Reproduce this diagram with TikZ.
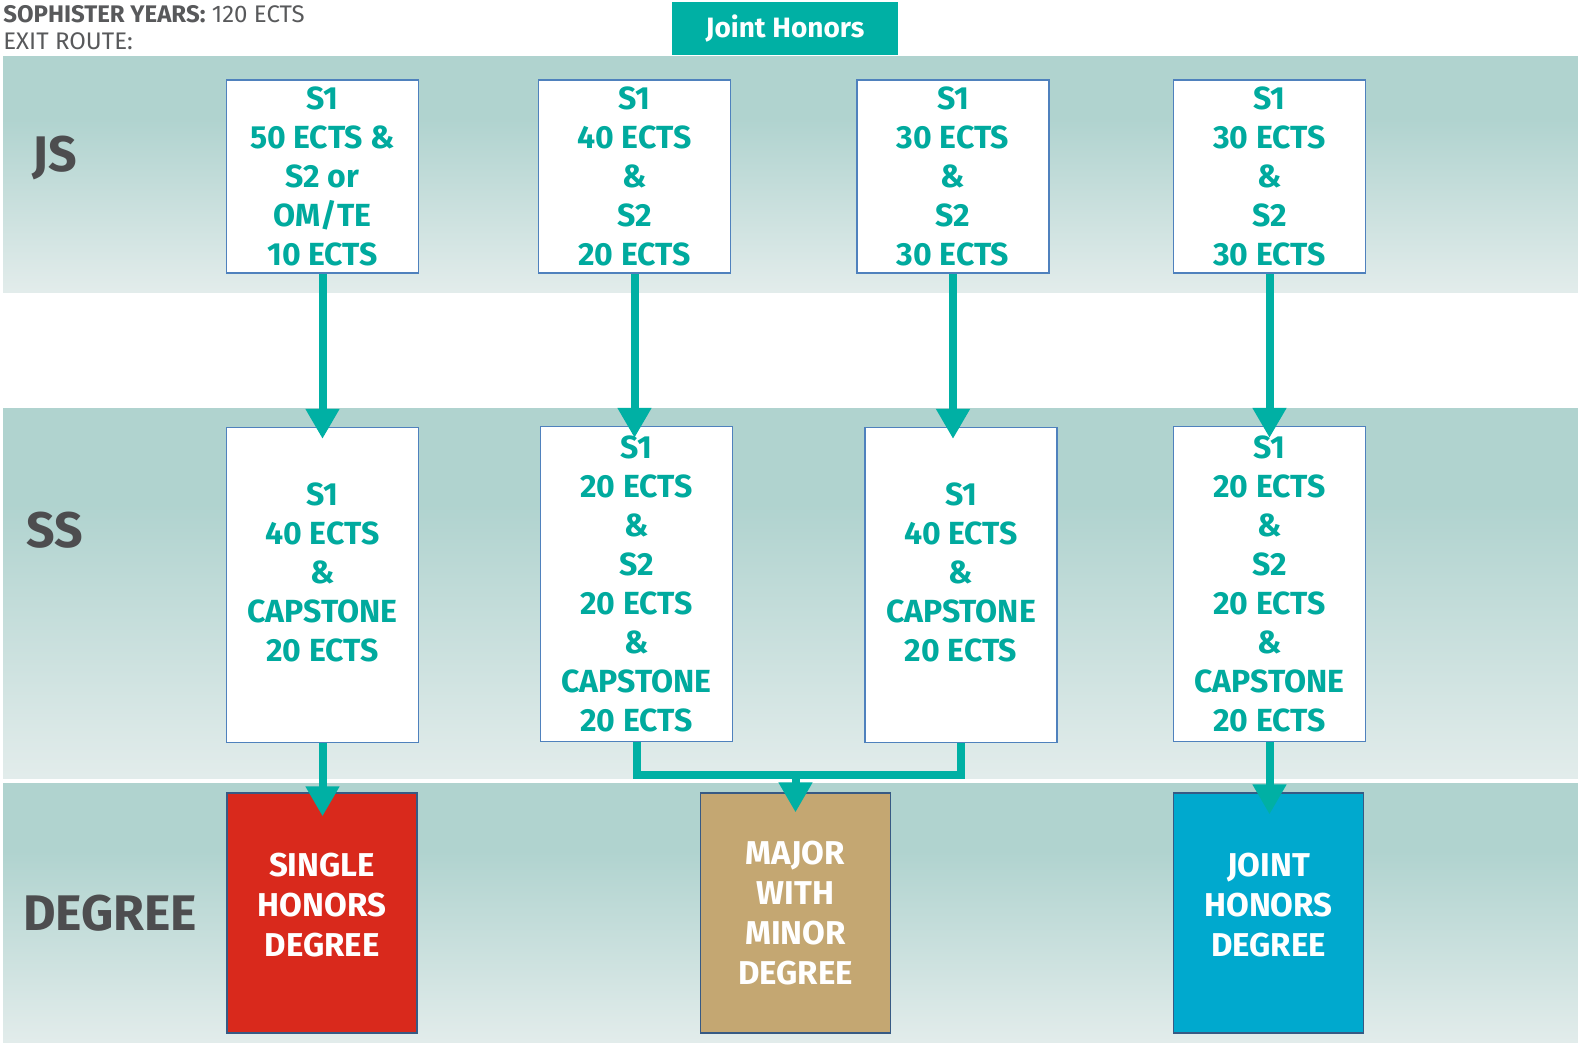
\documentclass[tikz,border=0pt]{standalone}
\usepackage{fontspec}
\setmainfont{Fira Sans}
\usetikzlibrary{arrows.meta}

\definecolor{tealtxt}{RGB}{0,170,158}
\definecolor{tealfill}{RGB}{0,176,164}
\definecolor{bandteal}{RGB}{176,211,207}
\definecolor{bandpale}{RGB}{244,245,245}
\definecolor{boxline}{RGB}{79,129,189}
\definecolor{labelgray}{RGB}{77,77,79}
\definecolor{headgray}{RGB}{88,89,91}
\definecolor{singlered}{RGB}{217,41,28}
\definecolor{majortan}{RGB}{196,167,114}
\definecolor{jointblue}{RGB}{0,169,206}

\pgfdeclareverticalshading{bandshade}{100bp}{color(0bp)=(bandpale); color(12bp)=(bandpale); color(62bp)=(bandteal); color(100bp)=(bandteal)}

\begin{document}
\begin{tikzpicture}[x=0.5pt,y=-0.5pt,
	credit/.style={draw=boxline,line width=0.6pt,fill=white,text=tealtxt,align=center,
		font=\fontsize{16}{19.5}\selectfont\bfseries,minimum width=96pt,inner sep=0pt},
	jsbox/.style={credit,minimum height=96.5pt},
	ssbox/.style={credit,minimum height=157.5pt},
	degree/.style={draw=boxline!70!black,line width=0.6pt,text=white,align=center,
		font=\fontsize{16.5}{20}\selectfont\bfseries,minimum width=95pt,minimum height=120pt,inner sep=0pt},
	rowlabel/.style={text=labelgray,font=\fontsize{25}{27}\selectfont\bfseries},
	heading/.style={anchor=west,inner sep=0pt,text=headgray,font=\fontsize{12}{14}\selectfont},
	flow/.style={draw=tealfill,line width=4pt},
	route/.style={flow,-{Triangle[width=16pt,length=15pt]}}]
	\useasboundingbox (0,0) rectangle (1578,1043);
	\fill[white] (0,0) rectangle (1578,1043);

	% background bands
	\shade[shading=bandshade] (3,57) rectangle (1578,292);
	\shade[shading=bandshade] (3,408) rectangle (1578,778);
	\shade[shading=bandshade] (3,783) rectangle (1578,1043);

	% heading
	\node[heading] (head) at (3,14) {\textbf{SOPHISTER YEARS:} 120 ECTS};
	\node[heading] (exit) at (3,41) {EXIT ROUTE:};
	\node[fill=tealfill,text=white,font=\fontsize{14}{16}\selectfont\bfseries,minimum width=113pt,minimum height=26.5pt,inner sep=0pt] (jh) at (785,28.5) {Joint Honors};

	% row labels
	\node[rowlabel] (js) at (55,158) {JS};
	\node[rowlabel] (ss) at (55,530) {SS};
	\node[rowlabel] (deg) at (110,913) {DEGREE};

	% junior sophister
	\node[jsbox] (A1) at (322.5,176.5) {S1\\50 ECTS \&\\S2 or\\OM/TE\\10 ECTS};
	\node[jsbox] (A2) at (634.5,176.5) {S1\\40 ECTS\\\&\\S2\\20 ECTS};
	\node[jsbox] (A3) at (953,176.5) {S1\\30 ECTS\\\&\\S2\\30 ECTS};
	\node[jsbox] (A4) at (1269.5,176.5) {S1\\30 ECTS\\\&\\S2\\30 ECTS};

	% senior sophister
	\node[ssbox] (B1) at (322.5,585) {S1\\40 ECTS\\\&\\CAPSTONE\\20 ECTS\\[-7pt]\mbox{}};
	\node[ssbox] (B2) at (636.5,584) {S1\\20 ECTS\\\&\\S2\\20 ECTS\\\&\\CAPSTONE\\20 ECTS};
	\node[ssbox] (B3) at (961,585) {S1\\40 ECTS\\\&\\CAPSTONE\\20 ECTS\\[-7pt]\mbox{}};
	\node[ssbox] (B4) at (1269.5,584) {S1\\20 ECTS\\\&\\S2\\20 ECTS\\\&\\CAPSTONE\\20 ECTS};

	% degrees
	\node[degree,fill=singlered] (C1) at (322,913) {SINGLE\\HONORS\\DEGREE\\[-12pt]\mbox{}};
	\node[degree,fill=majortan] (C2) at (795.5,913) {MAJOR\\WITH\\MINOR\\DEGREE};
	\node[degree,fill=jointblue] (C3) at (1268.5,913) {JOINT\\HONORS\\DEGREE\\[-12pt]\mbox{}};

	\coordinate (join) at (C2.north |- 0,775);

	% connectors
	\draw[route,shorten >=-6pt] (A1.south) -- (A1.south |- B1.north);
	\draw[route,shorten >=-6pt] (A2.south) -- (A2.south |- B2.north);
	\draw[route,shorten >=-6pt] (A3.south) -- (A3.south |- B3.north);
	\draw[route,shorten >=-6pt] (A4.south) -- (A4.south |- B4.north);
	\draw[flow] (B2.south) |- (join) -| (B3.south);
	\draw[route,shorten >=-10pt] (join) -- (C2.north);
	\draw[route,shorten >=-12pt] (B1.south) -- (B1.south |- C1.north);
	\draw[route,shorten >=-11pt] (B4.south) -- (B4.south |- C3.north);
\end{tikzpicture}
\end{document}
